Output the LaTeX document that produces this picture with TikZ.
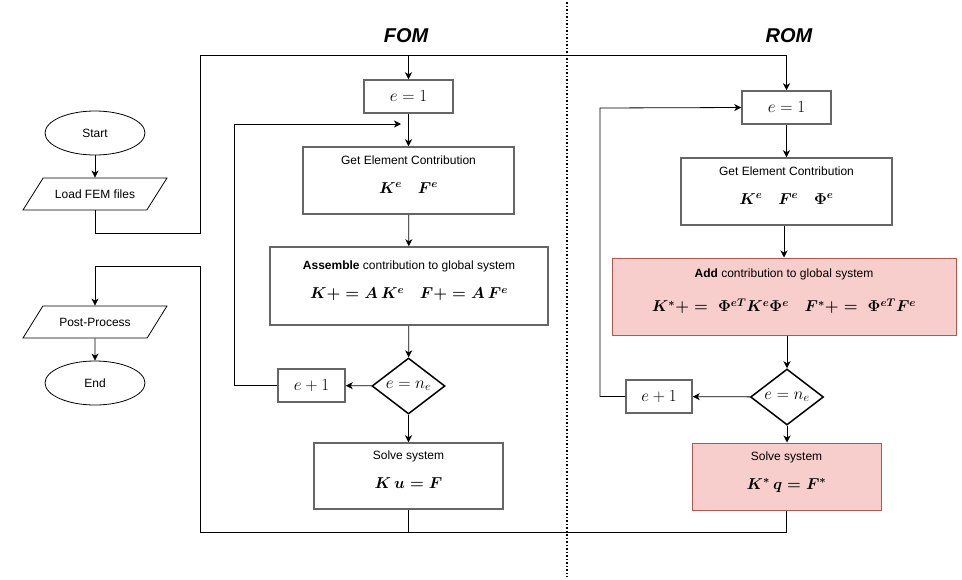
\RequirePackage{fix-cm}
\documentclass[tikz,border=0pt]{standalone}
\usepackage{amsmath}
\usepackage{fontspec}
\setmainfont{Liberation Sans}
\usetikzlibrary{shapes.geometric,positioning,calc,arrows.meta}
\definecolor{boxgray}{HTML}{666666}
\definecolor{pinkfill}{HTML}{F8CECC}
\definecolor{pinkdraw}{HTML}{B85450}
\newcommand{\bmath}[1]{{\fontsize{15.8}{18}\selectfont$\boldsymbol{#1}$}}
\newcommand{\nmath}[1]{{\fontsize{17}{20}\selectfont$#1$}}
\tikzset{BLOCK/.style={rectangle,draw=boxgray,line width=1.5pt,align=center,inner sep=0pt,font=\fontsize{12}{14}\selectfont}}
\tikzset{TWOLINE/.style={text depth=12pt}}
\tikzset{PINK/.style={BLOCK,fill=pinkfill,draw=pinkdraw,line width=1pt}}
\tikzset{DECISION/.style={diamond,draw,line width=1.5pt,inner sep=0pt,minimum width=73pt,minimum height=56pt}}
\tikzset{TERMINAL/.style={ellipse,draw,line width=0.8pt,inner sep=0pt,minimum width=100pt,minimum height=44pt,font=\fontsize{12}{14}\selectfont}}
\tikzset{IO/.style={trapezium,trapezium left angle=55,trapezium right angle=125,trapezium stretches body=true,draw,line width=0.8pt,inner xsep=0pt,inner ysep=10pt,minimum width=144pt,minimum height=32pt,font=\fontsize{12}{14}\selectfont}}
\tikzset{TITLE/.style={font=\fontsize{20}{24}\selectfont\bfseries\itshape}}
\tikzset{ARROW/.style={line width=0.8pt,-{Stealth[length=7pt,width=7pt,inset=2pt]}}}
\tikzset{LINE/.style={line width=0.8pt}}

\begin{document}
\begin{tikzpicture}[x=1pt,y=-1pt]
\useasboundingbox (0,0) rectangle (962,579);

\draw[dotted,line width=1.5pt] (567,2) -- (567,577);
\node[TITLE] (n_fom) at (406,36) {FOM};
\node[TITLE] (n_rom) at (789,36) {ROM};

\node[TERMINAL] (n_start) at (95,133) {Start};
\node[IO] (n_load) at (95,194) {Load FEM files};
\node[IO] (n_post) at (95,322) {Post-Process};
\node[TERMINAL] (n_end) at (95,383) {End};

% FOM
\node[BLOCK,minimum width=89pt,minimum height=33pt] (n_fom_e1) at (408.5,96.5) {\nmath{e=1}};
\node[BLOCK,TWOLINE,minimum width=211pt,minimum height=67pt] (n_fom_gec) at (408.5,180.5)
    {Get Element Contribution\\[15pt]\bmath{K^e\quad F^e}};
\node[BLOCK,TWOLINE,minimum width=278pt,minimum height=78pt] (n_fom_asm) at (409,286)
    {\textbf{Assemble} contribution to global system\\[15pt]\bmath{K+=A\,K^e\quad F+=A\,F^e}};
\node[DECISION] (n_fom_chk) at (408.5,386) {\nmath{e=n_e}};
\node[BLOCK,minimum width=67pt,minimum height=33pt] (n_fom_inc) at (311.5,385.5) {\nmath{e+1}};
\node[BLOCK,TWOLINE,minimum width=189pt,minimum height=66pt] (n_fom_solve) at (408.5,476)
    {Solve system\\[15pt]\bmath{K\,u=F}};

% ROM
\node[BLOCK,minimum width=89pt,minimum height=33pt] (n_rom_e1) at (786.5,107.5) {\nmath{e=1}};
\node[BLOCK,TWOLINE,minimum width=211pt,minimum height=67pt] (n_rom_gec) at (786.5,191.5)
    {Get Element Contribution\\[15pt]\bmath{K^e\quad F^e\quad \Phi^e}};
\node[PINK,TWOLINE,minimum width=344pt,minimum height=77pt] (n_rom_add) at (784,296.5)
    {\textbf{Add} contribution to global system\\[17pt]\bmath{K^*+=\;\Phi^{eT}K^e\Phi^e\quad F^*+=\;\Phi^{eT}F^e}};
\node[DECISION] (n_rom_chk) at (787,397) {\nmath{e=n_e}};
\node[BLOCK,minimum width=66pt,minimum height=33pt] (n_rom_inc) at (659,396.5) {\nmath{e+1}};
\node[PINK,TWOLINE,minimum width=189pt,minimum height=67pt] (n_rom_solve) at (786.5,476.5)
    {Solve system\\[15pt]\bmath{K^*\,q=F^*}};

\coordinate (c_in) at (200,233);
\coordinate (c_top) at (200,55);
\coordinate (c_bot) at (200,532);
\coordinate (c_out) at (200,266);
\coordinate (c_loop_f) at (234,124);
\coordinate (c_loop_f_end) at (401,124);
\coordinate (c_loop_r) at (600,108);

% left column
\draw[ARROW] (n_start) -- (n_load);
\draw[ARROW] (n_post) -- (n_end);
\draw[LINE] (n_load.south) |- (c_in) -- (c_top);
\draw[ARROW] (c_top) -| (n_rom_e1.north);
\draw[ARROW] (n_fom_e1.north |- c_top) -- (n_fom_e1.north);

% FOM chain
\draw[ARROW] (n_fom_e1) -- (n_fom_gec);
\draw[ARROW] (n_fom_gec) -- (n_fom_asm);
\draw[ARROW] (n_fom_asm) -- (n_fom_chk);
\draw[ARROW] (n_fom_chk) -- (n_fom_inc);
\draw[ARROW] (n_fom_chk) -- (n_fom_solve);
\draw[ARROW] (n_fom_inc.west) -| (c_loop_f) -- (c_loop_f_end);

% ROM chain
\draw[ARROW] (n_rom_e1.south) -- (n_rom_gec.north -| n_rom_e1);
\draw[ARROW] (n_rom_gec.south -| n_rom_add) -- (n_rom_add.north);
\draw[ARROW] (n_rom_add.south -| n_rom_chk) -- (n_rom_chk.north);
\draw[ARROW] (n_rom_chk) -- (n_rom_inc);
\draw[ARROW] (n_rom_chk.south) -- (n_rom_solve.north -| n_rom_chk);
\draw[ARROW] (n_rom_inc.west) -| (c_loop_r) -- (n_rom_e1.west);

% back to post-process
\draw[LINE] (n_fom_solve.south) -- (n_fom_solve.south |- c_bot);
\draw[ARROW] (n_rom_solve.south) |- (c_bot) -- (c_out) -| (n_post.north);

\end{tikzpicture}
\end{document}
